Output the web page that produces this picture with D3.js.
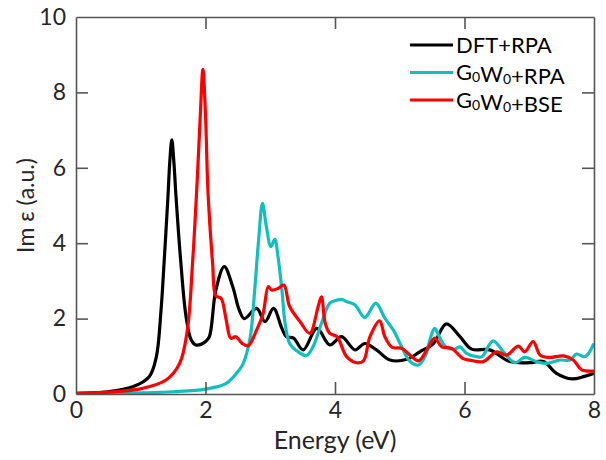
<!DOCTYPE html>
<html>
<head>
<meta charset="utf-8">
<script src="https://cdn.jsdelivr.net/npm/d3@7"></script>
<style>
  body { margin: 0; background: #fff; }
  svg text { font-family: Lato, "Open Sans", sans-serif; }
</style>
</head>
<body>
<div id="chart"></div>
<script>
// energy (eV) and Im eps values
var dftE = [0, 0.5, 0.875, 1.13, 1.24, 1.31, 1.36, 1.42, 1.45, 1.48, 1.51, 1.545, 1.62, 1.70, 1.78, 1.85, 2.0, 2.06, 2.16, 2.29, 2.42, 2.52, 2.60, 2.79, 2.92, 3.05, 3.18, 3.25, 3.36, 3.51, 3.72, 3.92, 4.10, 4.31, 4.46, 4.64, 4.85, 5.11, 5.31, 5.52, 5.72, 5.93, 6.11, 6.39, 6.70, 7.01, 7.22, 7.42, 7.66, 7.84, 8.0];
var dftV = [0.02, 0.06, 0.19, 0.46, 0.98, 2.15, 3.47, 5.23, 6.2, 6.74, 6.2, 5.23, 3.47, 2.05, 1.43, 1.30, 1.39, 1.52, 2.76, 3.38, 2.85, 2.23, 2.0, 2.27, 1.92, 2.27, 1.74, 1.52, 1.48, 1.17, 1.74, 1.30, 1.52, 1.17, 1.34, 1.17, 0.90, 0.92, 1.12, 1.34, 1.86, 1.52, 1.19, 1.17, 0.86, 0.83, 0.86, 0.55, 0.40, 0.46, 0.55];

var rpaE = [0, 1.0, 1.5, 2.0, 2.32, 2.52, 2.58, 2.69, 2.76, 2.82, 2.88, 2.94, 3.01, 3.07, 3.12, 3.18, 3.23, 3.30, 3.43, 3.56, 3.66, 3.79, 3.92, 4.03, 4.10, 4.18, 4.31, 4.46, 4.63, 4.77, 4.90, 5.03, 5.16, 5.29, 5.39, 5.48, 5.54, 5.62, 5.72, 5.85, 5.93, 6.03, 6.19, 6.27, 6.44, 6.60, 6.78, 6.93, 7.11, 7.27, 7.47, 7.63, 7.73, 7.86, 8.0];
var rpaV = [0.0, 0.03, 0.06, 0.13, 0.28, 0.64, 0.80, 1.5, 2.76, 4.08, 5.06, 4.44, 3.91, 4.10, 3.64, 2.76, 1.87, 1.34, 1.12, 1.02, 1.25, 1.87, 2.41, 2.49, 2.51, 2.45, 2.36, 2.03, 2.41, 2.01, 1.70, 1.25, 0.86, 0.77, 0.99, 1.52, 1.74, 1.48, 1.24, 1.19, 1.25, 1.08, 0.99, 0.99, 1.41, 1.12, 0.83, 0.97, 0.86, 0.81, 0.90, 0.90, 1.06, 0.99, 1.34];

var bseE = [0, 0.5, 1.03, 1.39, 1.60, 1.72, 1.80, 1.87, 1.92, 1.96, 2.0, 2.04, 2.11, 2.16, 2.24, 2.32, 2.39, 2.47, 2.56, 2.66, 2.79, 2.89, 2.97, 3.02, 3.12, 3.21, 3.30, 3.46, 3.61, 3.74, 3.79, 3.85, 3.92, 4.03, 4.18, 4.33, 4.44, 4.54, 4.69, 4.77, 4.88, 5.03, 5.16, 5.29, 5.42, 5.54, 5.65, 5.80, 5.98, 6.08, 6.29, 6.50, 6.65, 6.83, 6.93, 7.06, 7.17, 7.32, 7.53, 7.68, 7.81, 8.0];
var bseV = [0.02, 0.05, 0.15, 0.37, 0.81, 1.70, 3.47, 5.6, 7.4, 8.61, 7.4, 5.3, 3.47, 2.6, 2.54, 1.96, 1.48, 1.52, 1.35, 1.28, 1.70, 2.14, 2.85, 2.76, 2.80, 2.89, 2.32, 1.92, 1.61, 2.32, 2.58, 1.87, 1.61, 1.52, 0.99, 0.83, 0.88, 1.52, 1.94, 1.52, 1.24, 1.21, 1.03, 0.88, 1.17, 1.48, 1.25, 1.21, 0.94, 0.90, 0.86, 1.12, 1.03, 1.27, 1.12, 1.39, 1.03, 0.97, 1.01, 0.90, 0.64, 0.61];

var xTicks = [0, 2, 4, 6, 8];
var yTicks = [0, 2, 4, 6, 8, 10];
var seriesNames = ["DFT+RPA", "G0W0+RPA", "G0W0+BSE"];
var seriesColors = ["#000000", "#11bfbf", "#ff0000"];

var width = 606, height = 460;
var margin = {left: 76, right: 12, top: 17, bottom: 66};
var innerW = width - margin.left - margin.right;
var innerH = height - margin.top - margin.bottom;

var svg = d3.select('#chart').append('svg')
    .attr('width', width).attr('height', height);

var x = d3.scaleLinear().domain([0, 8]).range([margin.left, margin.left + innerW]);
var y = d3.scaleLinear().domain([0, 10]).range([margin.top + innerH, margin.top]);

svg.append('clipPath').attr('id', 'plotclip')
    .append('rect')
    .attr('x', margin.left).attr('y', margin.top)
    .attr('width', innerW).attr('height', innerH);

var series = [
    {name: seriesNames[0], color: seriesColors[0], e: dftE, v: dftV},
    {name: seriesNames[1], color: seriesColors[1], e: rpaE, v: rpaV},
    {name: seriesNames[2], color: seriesColors[2], e: bseE, v: bseV}
];

var line = d3.line()
    .x(d => x(d[0]))
    .y(d => y(d[1]))
    .curve(d3.curveCatmullRom.alpha(0.5));

svg.append('g').attr('clip-path', 'url(#plotclip)')
    .selectAll('path.curve')
    .data(series)
    .enter()
        .append('path')
        .attr('class', 'curve')
        .attr('d', s => line(d3.zip(s.e, s.v)))
        .attr('fill', 'none')
        .attr('stroke', s => s.color)
        .attr('stroke-width', 3.2)
        .attr('stroke-linejoin', 'round');

// axes: inward ticks on all four sides
var axisColor = '#555';
var tickLen = 12;

var axB = svg.append('g')
    .attr('transform', 'translate(0,' + (margin.top + innerH) + ')')
    .call(d3.axisBottom(x).tickValues(xTicks).tickSizeInner(-tickLen).tickSizeOuter(0).tickPadding(8));
var axT = svg.append('g')
    .attr('transform', 'translate(0,' + margin.top + ')')
    .call(d3.axisTop(x).tickValues(xTicks).tickSizeInner(-tickLen).tickSizeOuter(0).tickFormat(''));
var axL = svg.append('g')
    .attr('transform', 'translate(' + margin.left + ',0)')
    .call(d3.axisLeft(y).tickValues(yTicks).tickSizeInner(-tickLen).tickSizeOuter(0).tickPadding(10));
var axR = svg.append('g')
    .attr('transform', 'translate(' + (margin.left + innerW) + ',0)')
    .call(d3.axisRight(y).tickValues(yTicks).tickSizeInner(-tickLen).tickSizeOuter(0).tickFormat(''));

[axB, axT, axL, axR].forEach(g => {
    g.select('.domain').attr('stroke', axisColor).attr('stroke-width', 1.6);
    g.selectAll('.tick line').attr('stroke', axisColor).attr('stroke-width', 1.6);
    g.selectAll('.tick text')
        .attr('fill', '#262626')
        .style('font-size', '23px');
});
// hide end ticks that sit on the frame
[axB, axT].forEach(g => g.selectAll('.tick line').filter(d => d === 0 || d === 8).remove());
[axL, axR].forEach(g => g.selectAll('.tick line').filter(d => d === 0 || d === 10).remove());

svg.append('text')
    .attr('x', margin.left + innerW / 2)
    .attr('y', 449)
    .attr('text-anchor', 'middle')
    .attr('fill', '#262626')
    .style('font-size', '25px')
    .text('Energy (eV)');

svg.append('text')
    .attr('transform', 'translate(34,' + (margin.top + innerH / 2) + ') rotate(-90)')
    .attr('text-anchor', 'middle')
    .attr('fill', '#262626')
    .style('font-size', '23px')
    .text('Im ε (a.u.)');

// legend
var legend = svg.append('g').attr('class', 'legend');
var legX = 410, legY0 = 45, legStep = 27.5;
var rows = legend.selectAll('g.row')
    .data(series)
    .enter()
        .append('g')
        .attr('class', 'row')
        .attr('transform', (d, i) => 'translate(' + legX + ',' + (legY0 + i * legStep) + ')');
rows.append('line')
    .attr('x1', 0).attr('x2', 43)
    .attr('stroke', d => d.color)
    .attr('stroke-width', 3);
rows.append('text')
    .attr('x', 46)
    .attr('dy', '0.35em')
    .style('font-size', '22px')
    .attr('fill', '#000')
    .each(function (d) {
        var t = d3.select(this);
        // render the "0" after G and W as a small subscript
        var parts = d.name.split(/(0)/);
        parts.forEach(p => {
            if (p === '0') {
                t.append('tspan').style('font-size', '14px').attr('dy', 2).text('0');
                t.append('tspan').attr('dy', -2).text('');
            } else if (p) {
                t.append('tspan').text(p);
            }
        });
    });
</script>
</body>
</html>
